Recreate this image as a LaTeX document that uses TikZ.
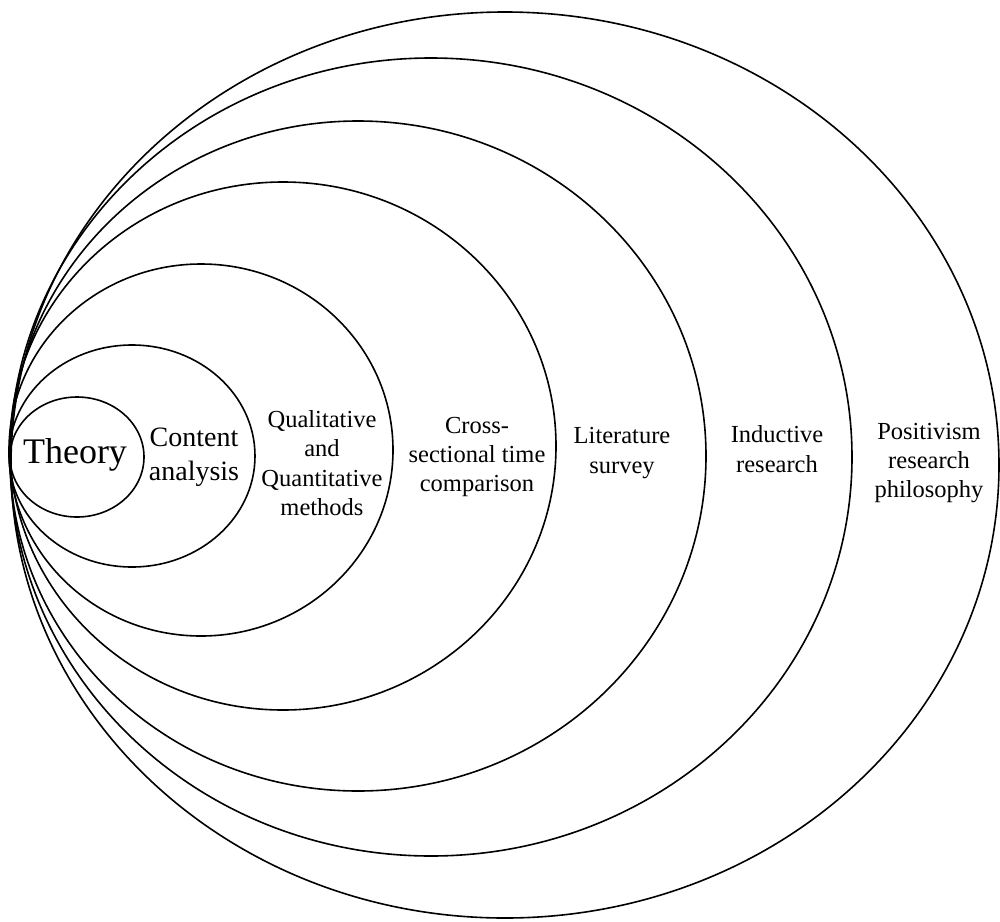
\documentclass[tikz,border=0pt]{standalone}
\usepackage{fontspec}
\setmainfont{Liberation Serif}
\newfontfamily\ringfont{Liberation Serif}
\usepackage{tikz}
\usetikzlibrary{positioning}

\tikzset{
    ring/.style={draw=black, line width=0.8pt},
    lbl/.style={align=center, inner sep=0pt, font=\ringfont\fontsize{12.25}{14.7}\selectfont}
}

\begin{document}
\begin{tikzpicture}[x=0.5pt, y=-0.5pt]
    \useasboundingbox (0,0) rectangle (1000,921);

    % Rings, inner to outer
    \draw[ring] (77,457) ellipse [x radius=67, y radius=60];
    \draw[ring] (132,456) ellipse [x radius=123, y radius=111];
    \draw[ring] (201,450) ellipse [x radius=192, y radius=186];
    \draw[ring] (283,446) ellipse [x radius=273, y radius=264];
    \draw[ring] (358,456) ellipse [x radius=348, y radius=335];
    \draw[ring] (431,457) ellipse [x radius=421, y radius=399];
    \draw[ring] (505,465) ellipse [x radius=494, y radius=453];

    % Labels
    \node[lbl, font=\ringfont\fontsize{18}{21.6}\selectfont] (theory) at (75,455) {Theory};
    \node[lbl, font=\ringfont\fontsize{14}{16.8}\selectfont] (content) at (194,457) {Content\\analysis};
    \node[lbl] (methods) at (322,463) {Qualitative\\and\\Quantitative\\methods};
    \node[lbl] (cross) at (477,457) {Cross-\\sectional time\\comparison};
    \node[lbl] (survey) at (622,453) {Literature\\survey};
    \node[lbl] (inductive) at (777,449) {Inductive\\research};
    \node[lbl] (positivism) at (929,463) {Positivism\\research\\philosophy};
\end{tikzpicture}
\end{document}
